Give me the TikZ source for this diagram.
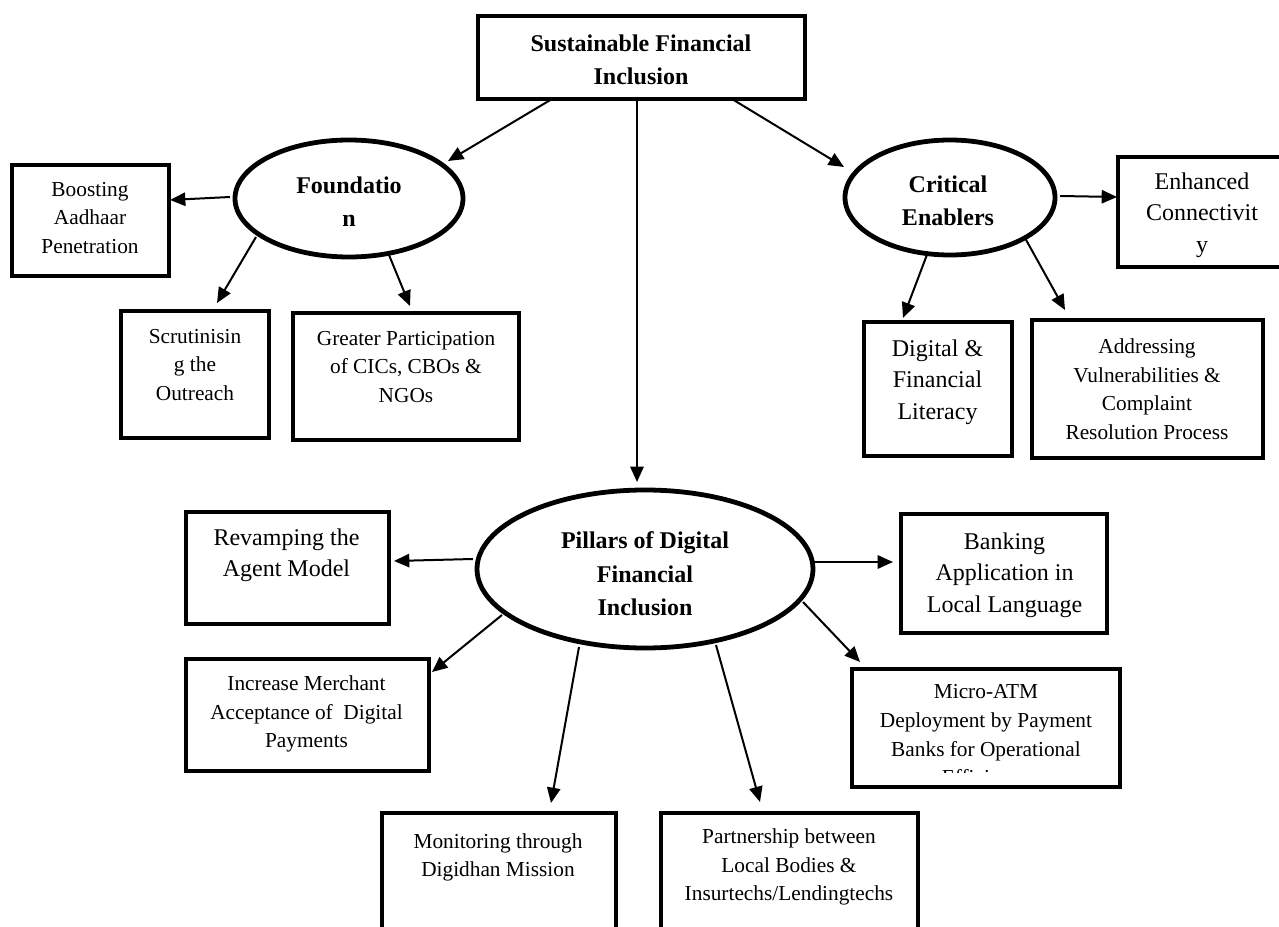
\documentclass[tikz,border=0pt]{standalone}
\usepackage{fontspec}
\setmainfont{Liberation Serif}
\usetikzlibrary{arrows.meta,calc,shapes.geometric}
\begin{document}
\begin{tikzpicture}[x=0.75pt,y=-0.75pt,
  boxnode/.style={draw, line width=3.6pt, rectangle, inner sep=0pt},
  ellnode/.style={draw, line width=3.6pt, ellipse, inner sep=0pt},
  sz/.style 2 args={minimum width=#1*0.75pt, minimum height=#2*0.75pt},
  boldtxt/.style={align=center, inner sep=0pt, font=\fontsize{18}{25}\selectfont\bfseries},
  bigtxt/.style={align=center, inner sep=0pt, font=\fontsize{18}{23.6}\selectfont},
  smalltxt/.style={align=center, inner sep=0pt, font=\fontsize{16}{21.4}\selectfont},
  arr/.style={line width=1.5pt, -{Triangle[length=11.5pt,width=10pt]}}
]
\useasboundingbox (0,0) rectangle (1279,927);

% ---- top box
\node[boxnode, sz={327}{83}] (top) at (641.5,57.5) {};
\node[boldtxt] (topt) at (641,60) {Sustainable Financial\\Inclusion};

% ---- ellipses
\node[ellnode, sz={228}{117}] (found) at (349,198.5) {};
\node[boldtxt] (foundt) at (349,201.5) {Foundatio\\n};
\node[ellnode, sz={210}{115}] (crit) at (950,197.5) {};
\node[boldtxt] (critt) at (948,201) {Critical\\Enablers};
\node[ellnode, sz={336}{158}] (pill) at (645,569) {};
\node[boldtxt] (pillt) at (645,574) {Pillars of Digital\\Financial\\Inclusion};

% ---- foundation boxes
\node[boxnode, sz={157}{111}] (boost) at (90.5,220.5) {};
\node[smalltxt] (boostt) at (90,218) {Boosting\\Aadhaar\\Penetration};
\node[boxnode, sz={148}{127}] (scrut) at (195,374.5) {};
\node[smalltxt] (scrutt) at (195,365) {Scrutinisin\\g the\\Outreach};
\node[boxnode, sz={226}{127}] (greater) at (406,376.5) {};
\node[smalltxt] (greatert) at (406,367) {Greater Participation\\of CICs, CBOs \&\\NGOs};

% ---- critical enabler boxes
\node[boxnode, sz={168}{110}] (enh) at (1202,212) {};
\node[bigtxt] (enht) at (1202,215) {Enhanced\\Connectivit\\y};
\node[boxnode, sz={148}{134}] (dig) at (938,389) {};
\node[bigtxt] (digt) at (937.5,382) {Digital \&\\Financial\\Literacy};
\node[boxnode, sz={231}{138}] (addr) at (1147.5,389) {};
\node[smalltxt] (addrt) at (1147,389) {Addressing\\Vulnerabilities \&\\Complaint\\Resolution Process};

% ---- pillar boxes
\node[boxnode, sz={203}{112}] (rev) at (287.5,568) {};
\node[bigtxt] (revt) at (286.5,555) {Revamping the\\Agent Model};
\node[boxnode, sz={206}{119}] (bank) at (1004,573.5) {};
\node[bigtxt] (bankt) at (1004.5,575) {Banking\\Application in\\Local Language};
\node[boxnode, sz={243}{112}] (inc) at (307.5,715) {};
\node[smalltxt] (inct) at (306.5,714) {Increase Merchant\\Acceptance of \ Digital\\Payments};
\node[boxnode, sz={268}{118}] (micro) at (986,728) {};
\begin{scope}
  \clip ($(micro.north west)+(4,4)$) rectangle ($(micro.south east)+(-4,-17)$);
  \node[smalltxt] (microt) at (986,737) {Micro-ATM\\Deployment by Payment\\Banks for Operational\\Efficiency};
\end{scope}
\node[boxnode, sz={234}{127}] (mon) at (499,876.5) {};
\node[smalltxt] (mont) at (498,857.5) {Monitoring through\\Digidhan Mission};
\node[boxnode, sz={257}{127}] (part) at (789.5,876.5) {};
\node[smalltxt] (partt) at (789,867) {Partnership between\\Local Bodies \&\\Insurtechs/Lendingtechs};

% ---- connectors
\draw[arr] ($(top.center)+(-89.5,41.5)$) -- ($(found.center)+(99,-37.5)$);
\draw[arr] ($(top.center)+(90.5,41.5)$) -- ($(crit.center)+(-106,-30.5)$);
\draw[arr] ($(top.center)+(-4.5,41.5)$) -- ($(pill.center)+(-8,-87)$);

\draw[arr] ($(found.center)+(-119,-1.5)$) -- ($(boost.center)+(79.5,-20.5)$);
\draw[arr] ($(found.center)+(-93,38.5)$) -- ($(scrut.center)+(22,-71.5)$);
\draw[arr] ($(found.center)+(40,56.5)$) -- ($(greater.center)+(4,-70.5)$);

\draw[arr] ($(crit.center)+(110,-1.5)$) -- ($(enh.center)+(-85,-15)$);
\draw[arr] ($(crit.center)+(-22,54.5)$) -- ($(dig.center)+(-35,-71)$);
\draw[arr] ($(crit.center)+(75,40.5)$) -- ($(addr.center)+(-82.5,-79)$);

\draw[arr] ($(pill.center)+(-172,-10)$) -- ($(rev.center)+(106.5,-7)$);
\draw[arr] ($(pill.center)+(166,-7)$) -- ($(bank.center)+(-111,-11.5)$);
\draw[arr] ($(pill.center)+(-143,46)$) -- ($(inc.center)+(124.5,-43)$);
\draw[arr] ($(pill.center)+(158,33)$) -- ($(micro.center)+(-126,-66)$);
\draw[arr] ($(pill.center)+(-66,78)$) -- ($(mon.center)+(52,-73.5)$);
\draw[arr] ($(pill.center)+(71,76)$) -- ($(part.center)+(-29.5,-74.5)$);
\end{tikzpicture}
\end{document}
